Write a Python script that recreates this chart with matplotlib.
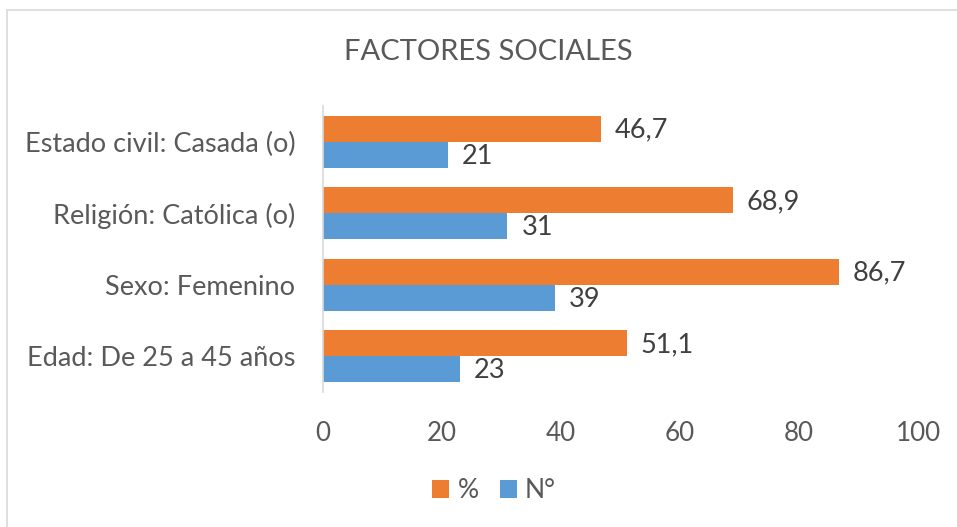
import matplotlib
matplotlib.use("Agg")
import matplotlib.pyplot as plt
import numpy as np
from matplotlib.patches import Rectangle

categories = ["Edad: De 25 a 45 años", "Sexo: Femenino", "Religión: Católica (o)", "Estado civil: Casada (o)"]
pct_values = [51.1, 86.7, 68.9, 46.7]
n_values = [23, 39, 31, 21]
pct_labels = ["51,1", "86,7", "68,9", "46,7"]
n_labels = ["23", "39", "31", "21"]
xticks = [0, 20, 40, 60, 80, 100]

plt.rcParams['font.family'] = ['Lato', 'DejaVu Sans']

W, H = 957, 527
fig = plt.figure(figsize=(W/100, H/100), dpi=100)
fig.patch.set_facecolor("white")

# outer frame
fig.add_artist(Rectangle((7/W, -0.1), 1.2, (1 - 10/H) + 0.1, transform=fig.transFigure,
                         fill=False, edgecolor="#d9d9d9", linewidth=1.2))

ax = fig.add_axes([323/W, 1 - 392/H, (918-323)/W, 286/H])
y = np.arange(len(categories))
h = 0.365
orange = "#ED7D31"
blue = "#5B9BD5"
ax.barh(y + h/2, pct_values, height=h, color=orange, label="%")
ax.barh(y - h/2, n_values, height=h, color=blue, label="N°")

fs = 19.5
for yi, v, lab in zip(y, pct_values, pct_labels):
    ax.annotate(lab, (v, yi + h/2), xytext=(10, -1), textcoords="offset points",
                va="center", ha="left", fontsize=fs, color="#404040")
for yi, v, lab in zip(y, n_values, n_labels):
    ax.annotate(lab, (v, yi - h/2), xytext=(10, -1), textcoords="offset points",
                va="center", ha="left", fontsize=fs, color="#404040")

ax.set_xlim(0, 100)
ax.set_ylim(-0.5, len(categories) - 0.5)
ax.set_yticks(y)
ax.set_yticklabels(categories, fontsize=fs, color="#595959")
ax.set_xticks(xticks)
ax.set_xticklabels([str(t) for t in xticks], fontsize=18.7, color="#595959")
ax.tick_params(axis="both", length=0)
ax.tick_params(axis="y", pad=20)
ax.tick_params(axis="x", pad=21)
for s in ["top", "right", "bottom"]:
    ax.spines[s].set_visible(False)
ax.spines["left"].set_color("#d9d9d9")
ax.spines["left"].set_linewidth(1.2)

fig.text(488/W, 1 - 52/H, "FACTORES SOCIALES", ha="center", va="center",
         fontsize=21, color="#595959")

leg = fig.legend(handles=ax.get_legend_handles_labels()[0], labels=["%", "N°"],
                 loc="center", bbox_to_anchor=(494/W, 1 - 491/H), ncol=2, frameon=False,
                 fontsize=19, handlelength=0.65, handleheight=0.65, handletextpad=0.3,
                 columnspacing=0.8, labelcolor="#595959")

fig.savefig("out.png", dpi=100)
